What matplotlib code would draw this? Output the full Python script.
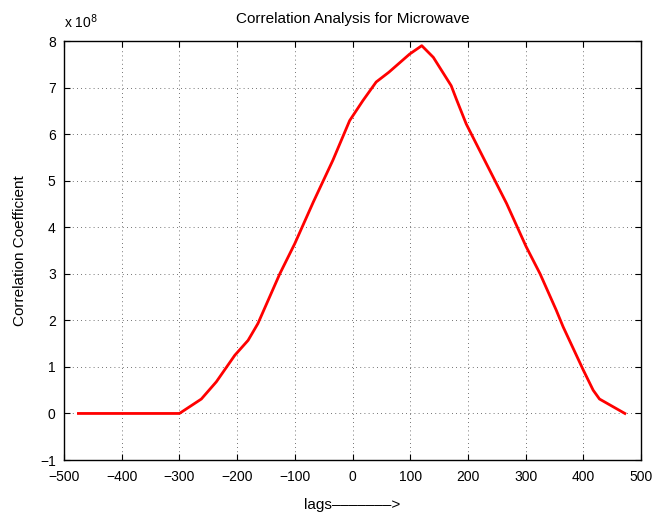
import matplotlib
matplotlib.use("Agg")
import matplotlib.pyplot as plt

lags = [-475, -300, -262, -236, -204, -181, -164, -126, -100, -68, -34, -5, 18, 41,
        63, 99, 120, 140, 171, 180, 197, 226, 267, 301, 325, 353, 365, 400, 417, 428, 472]
corr = [0, 0, 0.31, 0.68, 1.25, 1.57, 1.93, 3.0, 3.65, 4.54, 5.44, 6.29, 6.72, 7.12,
        7.33, 7.72, 7.90, 7.65, 7.04, 6.75, 6.22, 5.51, 4.51, 3.58, 3.0, 2.22, 1.86, 0.93, 0.5, 0.31, 0]
x_ticks = [-500, -400, -300, -200, -100, 0, 100, 200, 300, 400, 500]
y_ticks = [-1, 0, 1, 2, 3, 4, 5, 6, 7, 8]

plt.rcParams['font.family'] = ['Liberation Sans', 'DejaVu Sans']
plt.rcParams['font.size'] = 10

fig = plt.figure(figsize=(6.55, 5.16), dpi=100)
ax = fig.add_axes([0.0977, 0.1085, 0.881, 0.812])
ax.plot(lags, corr, color='red', lw=2)
ax.set_xlim(-500, 500)
ax.set_ylim(-1, 8)
ax.set_xticks(x_ticks)
ax.set_yticks(y_ticks)
ax.set_xticklabels([str(v).replace('-', '\u2212') for v in x_ticks])
ax.set_yticklabels([str(v).replace('-', '\u2212') for v in y_ticks])
ax.grid(True, linestyle=(0, (1, 4)), color='#444444', lw=0.6)
ax.tick_params(direction='in', top=True, right=True, length=4, width=0.8, labelsize=10)
ax.tick_params(axis='x', pad=7)
ax.tick_params(axis='y', pad=6)
for s in ax.spines.values():
    s.set_linewidth(1.0)
ax.set_title('Correlation Analysis for Microwave', fontsize=11, pad=13)
ax.set_xlabel('lags\u2013\u2013\u2013\u2013\u2013\u2013\u2013>', fontsize=11, labelpad=10)
ax.set_ylabel('Correlation Coefficient', fontsize=11, labelpad=9)
ax.text(0.0, 1.025, 'x 10$^{8}$', transform=ax.transAxes, ha='left', va='bottom', fontsize=10)
fig.savefig('out.png', dpi=100)
